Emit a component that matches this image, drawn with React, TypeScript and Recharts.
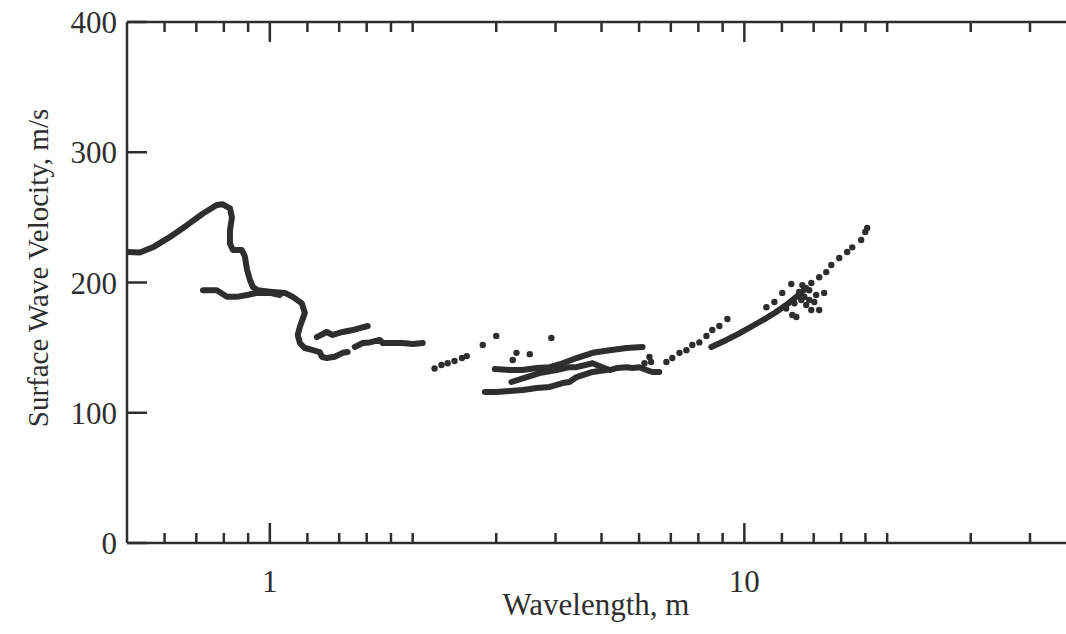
import { ComposedChart, Line, Scatter, XAxis, YAxis } from "recharts";

// upper continuous branch, starts at the left edge
const mainW = [0.5, 0.532, 0.567, 0.616, 0.669, 0.723, 0.773, 0.796, 0.824, 0.832, 0.824, 0.824, 0.836, 0.873, 0.886, 0.895, 0.908, 0.921, 0.943, 1.0, 1.076, 1.118, 1.168, 1.185, 1.157, 1.145, 1.157, 1.185, 1.232, 1.274, 1.287, 1.318, 1.37, 1.424, 1.459];
const mainV = [223.4, 223, 227, 235, 244, 253, 259.5, 260, 257, 250, 240, 230, 225, 225, 220, 210, 202, 196.5, 194, 193, 192, 189, 184, 176.6, 166, 159.7, 153.5, 149.7, 148, 146.6, 143, 142, 143, 146, 146.6];

const lowerW = [0.723, 0.773, 0.812, 0.852, 0.895, 0.939, 1.0, 1.05];
const lowerV = [194, 194, 189, 189, 190.4, 192, 192, 190.4];

const upperShortW = [1.256, 1.318, 1.357, 1.424, 1.496, 1.547, 1.608];
const upperShortV = [158, 162, 159.7, 162, 163.5, 165, 166.6];

const midBranchW = [1.51, 1.57, 1.624, 1.705, 1.73, 1.815, 1.905, 2.0, 2.1];
const midBranchV = [150.5, 153.5, 154, 155.9, 153.5, 153.5, 153.5, 152.8, 153.5];

const clusterTopW = [2.98, 3.2, 3.41, 3.65, 3.89, 4.14, 4.43, 4.79, 5.2, 5.65, 6.1];
const clusterTopV = [133.6, 132.8, 132.8, 134.4, 135, 138, 142, 146, 148, 149.7, 150.5];

const clusterMidW = [3.23, 3.48, 3.7, 4.02, 4.28, 4.43, 4.79, 5.02, 5.2, 5.4, 5.65, 5.81, 6.01, 6.22, 6.4, 6.62];
const clusterMidV = [123.6, 127.4, 130.5, 132.8, 135, 135, 138, 135, 132.8, 134.4, 135, 134.4, 135, 132.8, 131.3, 131.3];

const clusterLowW = [2.84, 3.0, 3.2, 3.41, 3.65, 3.89, 4.14, 4.28, 4.43, 4.79, 5.12];
const clusterLowV = [116, 116, 116.7, 117.5, 119, 119.8, 122.8, 123.6, 127.4, 131.3, 132.8];

const rightLineW = [8.52, 9.17, 9.76, 10.4, 11.13, 11.67, 12.25, 12.87, 13.5];
const rightLineV = [150.5, 155.9, 161, 166.6, 172.7, 177.4, 182.7, 188.9, 195.8];

// isolated dots
const dotsW = [
  2.224, 2.3, 2.37, 2.45, 2.54, 2.6, 2.81, 3.0, 3.25, 3.31, 3.53, 3.92,
  6.16, 6.31, 6.36, 6.85, 7.05, 7.3, 7.55, 7.77, 8.04, 8.32, 8.56, 8.86, 9.21,
  11.13, 11.57, 12.02, 12.56, 13.25, 13.84, 14.38, 14.88, 15.25, 15.85, 16.47, 16.88, 17.63, 17.98, 18.15,
  12.25, 12.62, 12.87, 13.18, 13.5, 13.84, 14.04, 14.17, 14.73, 13.7, 14.38, 13.38, 12.75, 13.7, 13.05,
];
const dotsV = [
  134, 136.7, 138, 139.7, 142, 143.5, 152, 159, 140.5, 146, 145, 157.4,
  138, 142.8, 139, 139, 142, 146, 148, 152, 154, 159, 163.5, 166.6, 172,
  181, 185, 192, 198.8, 198, 199.6, 204, 208, 213.4, 218.8, 223.4, 227, 232.6, 238.8, 241.8,
  180, 175, 173.5, 186.6, 182.7, 178.9, 185, 190.4, 192, 186.6, 178.9, 188.9, 184, 194, 192.7,
];

const xTicks = [0.6, 0.7, 0.8, 0.9, 1, 1.2, 1.4, 1.6, 1.8, 2, 3, 4, 5, 6, 7, 8, 9, 10, 12, 14, 16, 18, 20, 30, 40];
const xLabels = [1, 10];
const yTicks = [0, 100, 200, 300, 400];

const ink = "#2e2e2e";
const font = "'Liberation Serif', 'Times New Roman', serif";

const zip = (w: number[], v: number[]) => w.map((x, i) => ({ w: x, v: v[i] }));

const branches = [
  zip(mainW, mainV),
  zip(lowerW, lowerV),
  zip(upperShortW, upperShortV),
  zip(midBranchW, midBranchV),
  zip(clusterTopW, clusterTopV),
  zip(clusterMidW, clusterMidV),
  zip(clusterLowW, clusterLowV),
  zip(rightLineW, rightLineV),
];
const dots = zip(dotsW, dotsV);

function BottomTick(props: any) {
  const { x, y, payload } = props;
  const major = xLabels.includes(payload.value);
  return (
    <g>
      <line x1={x} x2={x} y1={y} y2={y - (major ? 20 : 10)} stroke={ink} strokeWidth={2.5} />
      {major && (
        <text x={x} y={y + 49} textAnchor="middle" fontSize={31} fontFamily={font} fill={ink}>
          {payload.value}
        </text>
      )}
    </g>
  );
}

function TopTick(props: any) {
  const { x, y, payload } = props;
  const major = xLabels.includes(payload.value);
  return <line x1={x} x2={x} y1={y} y2={y + (major ? 20 : 10)} stroke={ink} strokeWidth={2.5} />;
}

function LeftTick(props: any) {
  const { x, y, payload } = props;
  return (
    <g>
      <line x1={x} x2={x + 20} y1={y} y2={y} stroke={ink} strokeWidth={2.5} />
      <text x={x - 10} y={y + 11} textAnchor="end" fontSize={31} fontFamily={font} fill={ink}>
        {payload.value}
      </text>
    </g>
  );
}

function RightTick(props: any) {
  const { x, y } = props;
  return <line x1={x} x2={x - 20} y1={y} y2={y} stroke={ink} strokeWidth={2.5} />;
}

export default function App() {
  return (
    <div style={{ position: "absolute", left: 0, top: 0, width: 1066, height: 634, overflow: "hidden", background: "#fff" }}>
      <ComposedChart width={1090} height={634} margin={{ top: 12, right: 4, bottom: 31, left: 17 }}>
        <XAxis
          dataKey="w"
          type="number"
          scale="log"
          domain={[0.5, 50]}
          allowDataOverflow
          ticks={xTicks}
          interval={0}
          height={60}
          tickSize={0}
          tickMargin={0}
          tick={(p: any) => <BottomTick {...p} />}
          axisLine={{ stroke: ink, strokeWidth: 2.5 }}
          tickLine={false}
        />
        <XAxis
          xAxisId="top"
          orientation="top"
          dataKey="w"
          type="number"
          scale="log"
          domain={[0.5, 50]}
          allowDataOverflow
          ticks={xTicks}
          interval={0}
          height={10}
          tickSize={0}
          tickMargin={0}
          tick={(p: any) => <TopTick {...p} />}
          axisLine={{ stroke: ink, strokeWidth: 2.5 }}
          tickLine={false}
        />
        <YAxis
          type="number"
          domain={[0, 400]}
          ticks={yTicks}
          interval={0}
          width={110}
          tickSize={0}
          tickMargin={0}
          tick={(p: any) => <LeftTick {...p} />}
          axisLine={{ stroke: ink, strokeWidth: 2.5 }}
          tickLine={false}
        />
        <YAxis
          yAxisId="r"
          orientation="right"
          type="number"
          domain={[0, 400]}
          ticks={yTicks}
          interval={0}
          width={10}
          tickSize={0}
          tickMargin={0}
          tick={(p: any) => <RightTick {...p} />}
          axisLine={{ stroke: ink, strokeWidth: 2.5 }}
          tickLine={false}
        />
        {branches.map((d, i) => (
          <Line
            key={i}
            data={d}
            dataKey="v"
            type="linear"
            stroke={ink}
            strokeWidth={6}
            strokeLinecap="round"
            strokeLinejoin="round"
            dot={false}
            activeDot={false}
            isAnimationActive={false}
          />
        ))}
        <Scatter
          data={dots}
          dataKey="v"
          isAnimationActive={false}
          shape={(p: any) => <circle cx={p.cx} cy={p.cy} r={3.2} fill={ink} />}
        />
      </ComposedChart>
      <div
        style={{
          position: "absolute",
          left: 38,
          top: 268,
          transform: "translate(-50%, -50%) rotate(-90deg)",
          whiteSpace: "nowrap",
          fontSize: 29,
          fontFamily: font,
          color: ink,
        }}
      >
        Surface Wave Velocity, m/s
      </div>
      <div
        style={{
          position: "absolute",
          left: 596,
          top: 605,
          transform: "translate(-50%, -50%)",
          whiteSpace: "nowrap",
          fontSize: 31,
          fontFamily: font,
          color: ink,
        }}
      >
        Wavelength, m
      </div>
    </div>
  );
}
